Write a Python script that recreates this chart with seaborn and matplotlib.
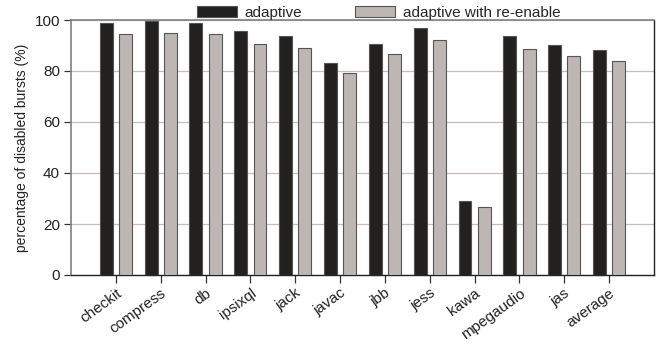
import matplotlib
matplotlib.use("Agg")
import matplotlib.pyplot as plt
import seaborn as sns
import pandas as pd

categories = ["checkit", "compress", "db", "ipsixql", "jack", "javac", "jbb",
              "jess", "kawa", "mpegaudio", "jas", "average"]
adaptive = [99, 99.8, 98.8, 95.8, 93.8, 83, 90.5, 96.8, 29, 93.8, 90.3, 88.3]
reenable = [94.7, 95, 94.5, 90.5, 89.2, 79.3, 86.8, 92, 26.5, 88.5, 85.7, 83.8]
series_names = ["adaptive", "adaptive with re-enable"]

df = pd.DataFrame({
    "benchmark": categories * 2,
    "value": adaptive + reenable,
    "series": [series_names[0]] * len(categories) + [series_names[1]] * len(categories),
})

sns.set_theme(style="white")
plt.rcParams["font.family"] = ["Liberation Sans", "DejaVu Sans"]

fig = plt.figure(figsize=(6.62, 3.5), dpi=100)
ax = fig.add_axes([71 / 662, 1 - 275 / 350, (654 - 71) / 662, (275 - 20) / 350])

sns.barplot(data=df, x="benchmark", y="value", hue="series", ax=ax,
            palette=["#231f20", "#bfb5b2"], width=0.86, gap=0.33,
            edgecolor="#555555", linewidth=0.8, legend=True, zorder=3)

ax.set_xlim(-1, 12)
ax.set_ylim(0, 100)
ax.set_yticks([0, 20, 40, 60, 80, 100])
ax.yaxis.grid(True, color="#cbbcbc", linewidth=0.9, zorder=0)
ax.set_axisbelow(True)

ax.set_xlabel("")
ax.set_ylabel("percentage of disabled bursts (%)", fontsize=10, color="#222222")
ax.tick_params(axis="y", labelsize=11, direction="out", length=5, width=0.9,
               color="#333333", left=True, labelcolor="#222222", pad=3)
ax.tick_params(axis="x", labelsize=11, direction="out", length=6, width=0.9,
               color="#333333", bottom=True, labelcolor="#222222", pad=2)
for lab in ax.get_xticklabels():
    lab.set_rotation(36)
    lab.set_ha("right")
    lab.set_rotation_mode("anchor")

for side in ["left", "top"]:
    ax.spines[side].set_color("#808080")
    ax.spines[side].set_linewidth(1.2)
for side in ["right", "bottom"]:
    ax.spines[side].set_color("#222222")
    ax.spines[side].set_linewidth(1.0)

leg = ax.legend(loc="lower left", bbox_to_anchor=(0.216, 1.0), ncol=2,
                frameon=False, fontsize=11, handlelength=2.6, handleheight=0.7,
                columnspacing=3.5, handletextpad=0.5, borderaxespad=0,
                borderpad=0)

fig.savefig("out.png", dpi=100)
